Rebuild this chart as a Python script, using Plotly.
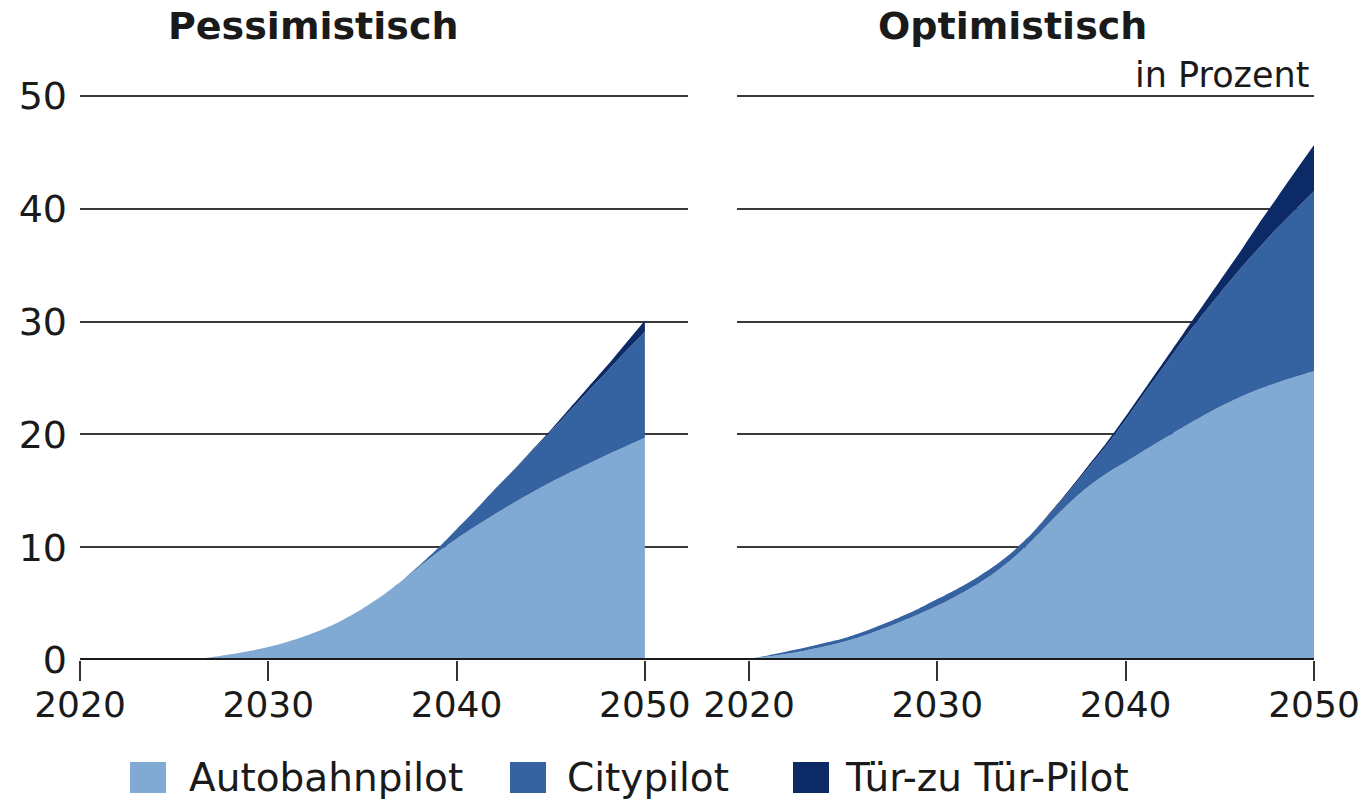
import plotly.graph_objects as go

# Szenarien: Anteil automatisierter Fahrfunktionen, in Prozent
years = list(range(2020, 2051))

pess_autobahn = [0, 0, 0, 0, 0, 0, 0.1, 0.25, 0.5, 0.8, 1.15, 1.6, 2.15, 2.8, 3.6, 4.55,
                 5.65, 6.9, 8.25, 9.55, 10.75, 11.85, 12.9, 13.9, 14.85, 15.75, 16.6, 17.4, 18.2, 18.95, 19.7]
pess_city = [0] * 18 + [0.1, 0.35, 0.85, 1.45, 2.2, 2.85, 3.65, 4.5, 5.45, 6.45, 7.4, 8.45, 9.4]
pess_tuer = [0] * 23 + [0.05, 0.1, 0.15, 0.25, 0.35, 0.5, 0.7, 1.0]

opt_autobahn = [0.1, 0.3, 0.55, 0.85, 1.2, 1.6, 2.1, 2.7, 3.35, 4.05, 4.8, 5.65, 6.6, 7.7, 9.0, 10.55,
                12.25, 13.9, 15.35, 16.55, 17.55, 18.6, 19.6, 20.6, 21.55, 22.45, 23.25, 23.95, 24.55, 25.1, 25.6]
opt_city = [0, 0.1, 0.2, 0.25, 0.3, 0.3, 0.35, 0.4, 0.45, 0.5, 0.6, 0.6, 0.6, 0.6, 0.6, 0.65,
            0.75, 1.05, 1.65, 2.5, 3.75, 5.05, 6.35, 7.65, 8.9, 10.05, 11.25, 12.45, 13.65, 14.8, 15.95]
opt_tuer = [0] * 16 + [0.1, 0.15, 0.2, 0.25, 0.3, 0.35, 0.45, 0.55, 0.75, 1.1, 1.5, 2.1, 2.7, 3.4, 4.1]

series_names = ["Autobahnpilot", "Citypilot", "Tür-zu Tür-Pilot"]
colors = ["#80a9d4", "#3563a1", "#0c2a66"]

W, H = 1365, 801
FONT = "DejaVu Sans"
TXT = "#1a1a1a"


def px(x):
    return x / W


def py(y):
    return 1 - y / H


fig = go.Figure()

for vals, name, col in zip([pess_autobahn, pess_city, pess_tuer], series_names, colors):
    fig.add_trace(go.Scatter(x=years, y=vals, name=name, stackgroup="pess", mode="lines",
                             line=dict(width=0, shape="spline", smoothing=0.8, color=col),
                             fillcolor=col, xaxis="x", yaxis="y", showlegend=False))

for vals, name, col in zip([opt_autobahn, opt_city, opt_tuer], series_names, colors):
    fig.add_trace(go.Scatter(x=years, y=vals, name=name, stackgroup="opt", mode="lines",
                             line=dict(width=0, shape="spline", smoothing=0.8, color=col),
                             fillcolor=col, xaxis="x2", yaxis="y2", showlegend=False))

xcommon = dict(tickvals=[2020, 2030, 2040, 2050], ticks="outside", ticklen=20, tickwidth=2,
               tickcolor="#333", showgrid=False, showline=False, zeroline=False, automargin=False,
               tickfont=dict(family=FONT, size=36, color=TXT), ticklabelstandoff=-7)
ycommon = dict(range=[0, 50.3], tickvals=[0, 10, 20, 30, 40, 50], showgrid=True,
               gridcolor="#3a3a3a", gridwidth=1.5, zeroline=False, showline=False, automargin=False,
               domain=[py(660), py(92.6)])

fig.update_layout(
    width=W, height=H,
    margin=dict(l=0, r=0, t=0, b=0),
    paper_bgcolor="white", plot_bgcolor="white",
    xaxis=dict(domain=[px(80), px(688)], range=[2020, 2052.29], **xcommon),
    xaxis2=dict(domain=[px(737), px(1314)], range=[2019.36, 2050], anchor="y2", **xcommon),
    yaxis=dict(anchor="x", tickfont=dict(family=FONT, size=38, color=TXT),
               ticklabelstandoff=12, **ycommon),
    yaxis2=dict(anchor="x2", showticklabels=False, **ycommon),
)

# durchgehende Nulllinie
fig.add_shape(type="line", xref="paper", yref="y", x0=px(80), x1=px(1314), y0=0, y1=0,
              line=dict(color="#1a1a1a", width=4), layer="above")

fig.add_annotation(text="<b>Pessimistisch</b>", xref="paper", yref="paper", x=px(313), y=py(26),
                   showarrow=False, font=dict(family=FONT, size=38, color=TXT), xanchor="center", yanchor="middle")
fig.add_annotation(text="<b>Optimistisch</b>", xref="paper", yref="paper", x=px(1012), y=py(26),
                   showarrow=False, font=dict(family=FONT, size=38, color=TXT), xanchor="center", yanchor="middle")
fig.add_annotation(text="in Prozent", xref="paper", yref="paper", x=px(1311), y=py(75),
                   showarrow=False, font=dict(family=FONT, size=35, color=TXT), xanchor="right", yanchor="middle")

# Legende
legend_pos = [(130, 187), (510, 565), (793, 843)]
for (sx, tx), name, col in zip(legend_pos, series_names, colors):
    fig.add_shape(type="rect", xref="paper", yref="paper", x0=px(sx), x1=px(sx + 36),
                  y0=py(793), y1=py(762), fillcolor=col, line=dict(width=0))
    fig.add_annotation(text=name, xref="paper", yref="paper", x=px(tx), y=py(777),
                       showarrow=False, font=dict(family=FONT, size=39, color=TXT),
                       xanchor="left", yanchor="middle")

# remove the default 8px page margin so the figure fills the window
fig.write_html("out.html", config={"displayModeBar": False},
               post_script="document.body.style.margin='0';")
